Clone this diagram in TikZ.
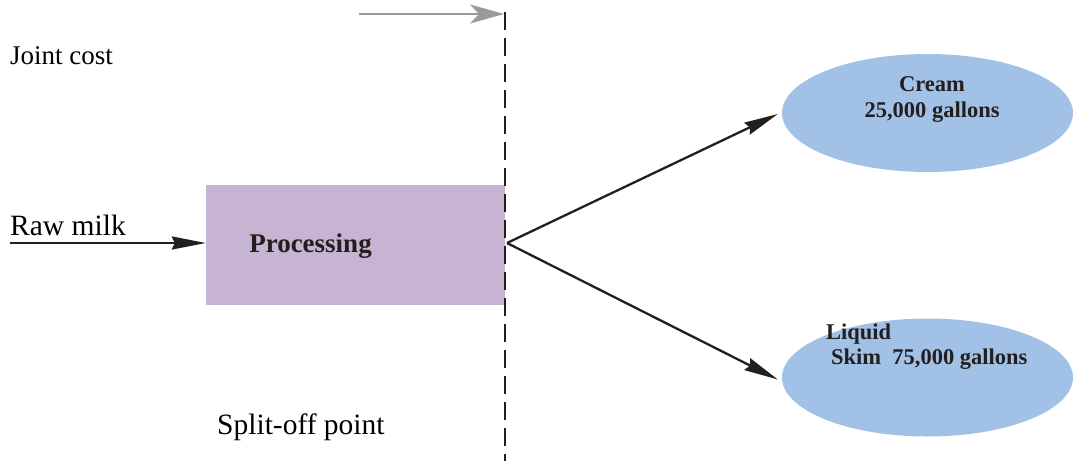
\documentclass[tikz,border=0pt]{standalone}
\usepackage{fontspec}
\setmainfont{Liberation Serif}
\usetikzlibrary{arrows.meta,shapes.geometric}
\definecolor{inkdark}{HTML}{231F20}
\definecolor{procfill}{HTML}{C6B4D2}
\definecolor{prodfill}{HTML}{A2C1E6}
\definecolor{arrowgray}{HTML}{9A9A9A}
\tikzset{
  lbl/.style={inner sep=0pt, text=black, font=\fontsize{29.5}{32}\selectfont},
  boldlbl/.style={inner sep=0pt, text=inkdark, font=\bfseries\fontsize{22.5}{26}\selectfont, align=center},
  flow/.style={draw=inkdark, line width=2.3pt, -{Stealth[length=34pt, width=13pt, inset=3pt]}},
  product/.style={ellipse, fill=prodfill, minimum width=291pt, minimum height=118pt, inner sep=0pt}
}
\begin{document}
\begin{tikzpicture}[x=1pt, y=-1pt]
  \useasboundingbox (0,0) rectangle (1073,461);

  % processing stage and the two joint products
  \node[fill=procfill, minimum width=299pt, minimum height=120pt, inner sep=0pt] (proc) at (355.5,245) {};
  \node[boldlbl, font=\bfseries\fontsize{27}{30}\selectfont] (proctxt) at (310.5,246) {Processing};
  \node[product] (cream) at (927.5,113) {};
  \node[product] (skim) at (927.5,377.5) {};

  \node[boldlbl] (creamtxt) at (932,100) {Cream\\25,000 gallons};
  \node[boldlbl, anchor=west] (liqtxt) at (826,334) {Liquid};
  \node[boldlbl, anchor=west] (skimtxt) at (831,359) {Skim\ \ 75,000 gallons};

  % plain labels
  \node[lbl, anchor=west, font=\fontsize{27}{30}\selectfont] (joint) at (10,56) {Joint cost};
  \node[lbl, anchor=west] (raw) at (10,225) {Raw milk};
  \node[lbl, anchor=west] (split) at (217,427) {Split-off point};

  % split-off line
  \coordinate (stop) at (505,12);
  \coordinate (sbot) at (505,461);
  \coordinate (sp) at (507,243);
  \draw[inkdark, line width=2.2pt, dash pattern=on 18pt off 8pt] (stop) -- (sbot);

  % joint-cost pointer
  \coordinate (jstart) at (359,14);
  \draw[arrowgray, line width=2.5pt, -{Stealth[length=34pt, width=19pt, inset=9pt]}, shorten >=1pt] (jstart) -- (stop |- jstart);

  % flows
  \coordinate (rawstart) at (10,243);
  \draw[flow] (rawstart) -- (proc.west |- rawstart);
  \draw[flow] (sp) -- ([xshift=-4pt,yshift=-1pt]cream.west);
  \draw[flow] (sp) -- ([xshift=-4pt,yshift=-2pt]skim.west);
\end{tikzpicture}
\end{document}
